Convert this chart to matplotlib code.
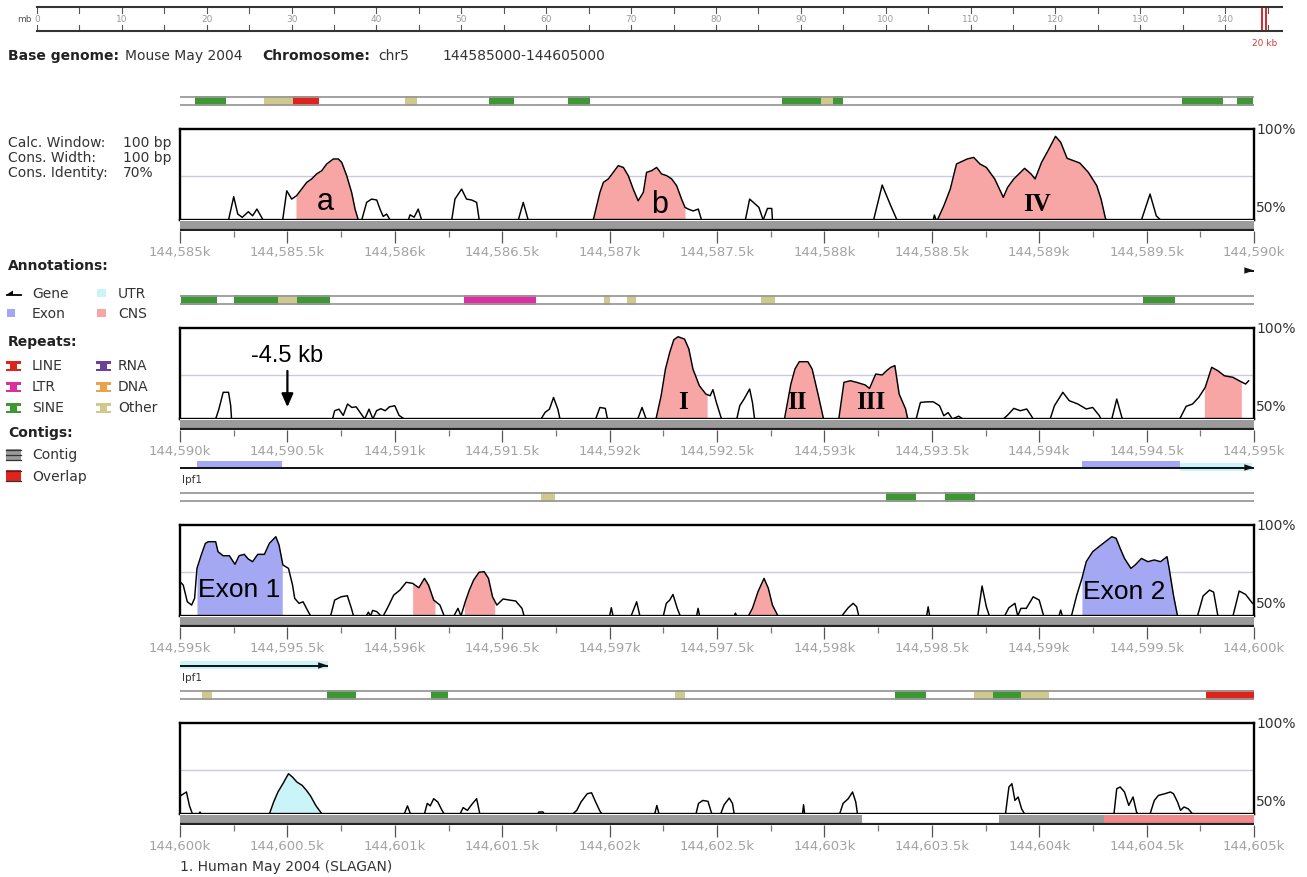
import numpy as np
import matplotlib
matplotlib.use("Agg")
import matplotlib.pyplot as plt
from matplotlib.patches import Rectangle, Polygon
from matplotlib.ticker import MultipleLocator, FuncFormatter

W, H = 1307, 878
BASE = 41.7          # identity drawn on the floor of each conservation plot
SPAN = 5000          # bp shown per row

PANEL_STARTS = [144585000, 144590000, 144595000, 144600000]

# ---- conservation curves: offset from row start (bp), percent identity ----
P1_POS = [0, 226, 250, 269, 290, 318, 338, 358, 387, 478, 497, 520, 543, 590, 613, 636, 660,
          683, 714, 737, 753, 776, 799, 815, 830, 846, 869, 892, 916, 931, 946, 962, 978,
          1063, 1071, 1090, 1109, 1125, 1265, 1280, 1311, 1334, 1358, 1381, 1393, 1575,
          1598, 1621, 1924, 1955, 1971, 1994, 2017, 2040, 2064, 2087, 2110, 2133, 2157,
          2172, 2196, 2219, 2242, 2266, 2289, 2312, 2335, 2351, 2366, 2389, 2413, 2428,
          2632, 2652, 2695, 2715, 2735, 2755, 2758, 3229, 3269, 3309, 3338, 3507, 3512,
          3520, 3526, 3556, 3586, 3615, 3665, 3695, 3724, 3754, 3793, 3833, 3853, 3882,
          3932, 3962, 3981, 4011, 4041, 4076, 4100, 4130, 4160, 4189, 4229, 4268, 4288,
          4308, 4312, 4476, 4516, 4545, 4565, 5000]
P1_PCT = [41.7, 41.7, 56.6, 45.5, 43.4, 47.0, 44.4, 48.7, 41.7, 41.7, 60.4, 55.1, 57.3, 65.8,
          68.0, 71.2, 73.3, 77.6, 80.8, 80.8, 78.6, 70.1, 59.4, 48.7, 41.7, 41.7, 53.0, 55.1,
          54.5, 48.7, 44.0, 45.5, 41.7, 41.7, 45.0, 43.5, 48.7, 41.7, 41.7, 55.1, 61.5, 55.1,
          54.5, 53.0, 41.7, 41.7, 53.0, 41.7, 41.7, 59.4, 65.8, 68.0, 72.2, 76.5, 75.4, 70.1,
          61.5, 54.0, 59.4, 72.2, 73.3, 75.4, 71.2, 70.1, 68.0, 63.7, 55.1, 49.8, 48.7, 47.5,
          48.7, 41.7, 41.7, 55.1, 49.8, 41.7, 49.1, 49.1, 41.7, 41.7, 64.1, 50.8, 41.7, 41.7,
          44.9, 41.7, 41.7, 50.8, 61.5, 77.6, 80.8, 81.8, 77.6, 75.4, 68.0, 56.2, 62.6, 68.0,
          74.8, 71.2, 68.0, 78.6, 86.1, 95.3, 91.5, 81.2, 79.7, 78.2, 72.2, 63.7, 55.1, 43.0,
          41.7, 41.7, 58.3, 44.4, 41.7, 41.7]

P2_POS = [0, 166, 181, 201, 226, 236, 240, 710, 720, 740, 760, 780, 800, 820, 838, 860, 880,
          898, 915, 935, 955, 975, 1000, 1020, 1044, 1681, 1700, 1720, 1739, 1759, 1769,
          1935, 1955, 1980, 1990, 2131, 2151, 2170, 2216, 2240, 2260, 2280, 2299, 2319,
          2349, 2369, 2388, 2418, 2448, 2468, 2481, 2497, 2521, 2592, 2606, 2626, 2652,
          2665, 2675, 2814, 2844, 2863, 2883, 2923, 2943, 2972, 2996, 3067, 3091, 3121,
          3150, 3190, 3210, 3239, 3269, 3289, 3309, 3328, 3348, 3378, 3388, 3427, 3447,
          3477, 3507, 3536, 3556, 3576, 3596, 3625, 3645, 3833, 3853, 3882, 3912, 3942,
          3962, 3972, 4051, 4071, 4110, 4140, 4180, 4219, 4249, 4279, 4288, 4338, 4361,
          4387, 4654, 4684, 4714, 4743, 4773, 4803, 4832, 4862, 4902, 4931, 4961, 4975]
P2_PCT = [41.7, 41.7, 48.0, 58.8, 58.8, 50.2, 41.7, 41.7, 47.0, 48.0, 44.0, 51.3, 49.1, 49.5,
          46.0, 41.7, 48.0, 41.7, 47.0, 48.3, 47.0, 49.5, 50.2, 44.0, 41.7, 41.7, 46.0, 48.0,
          55.5, 48.0, 41.7, 41.7, 49.1, 48.5, 41.7, 41.7, 49.1, 41.7, 41.7, 56.6, 73.7, 84.4,
          92.5, 94.4, 92.9, 86.5, 73.7, 63.0, 57.7, 56.6, 60.5, 52.3, 41.7, 41.7, 50.2, 54.5,
          60.9, 52.3, 41.7, 41.7, 64.1, 73.7, 78.4, 78.4, 73.7, 56.6, 41.7, 41.7, 65.2, 66.2,
          65.2, 63.5, 61.3, 70.5, 69.9, 72.6, 74.8, 75.9, 57.7, 48.1, 41.7, 41.7, 52.3, 52.7,
          52.7, 50.2, 43.8, 45.8, 41.7, 43.5, 41.7, 41.7, 44.2, 48.5, 47.0, 48.1, 44.0, 41.7,
          41.7, 50.2, 58.8, 53.4, 51.3, 48.1, 49.1, 44.0, 41.7, 41.7, 54.5, 41.7, 41.7, 49.8,
          51.3, 55.6, 62.0, 74.8, 72.6, 69.4, 68.4, 66.2, 64.1, 66.2]

P3_POS = [0, 15, 34, 54, 68, 79, 99, 118, 132, 166, 177, 201, 230, 256, 275, 299, 318, 338,
          362, 393, 416, 446, 461, 479, 505, 524, 534, 554, 573, 593, 608, 701, 720, 750,
          779, 798, 808, 867, 877, 887, 897, 916, 936, 946, 965, 995, 1024, 1053, 1083,
          1112, 1138, 1157, 1181, 1210, 1230, 1275, 1294, 1308, 1328, 1347, 1367, 1392,
          1416, 1436, 1455, 1475, 1504, 1534, 1563, 1592, 1602, 2000, 2008, 2016, 2100,
          2126, 2141, 2250, 2264, 2280, 2295, 2315, 2329, 2405, 2412, 2419, 2580, 2586,
          2592, 2646, 2665, 2691, 2719, 2739, 2758, 2784, 3081, 3111, 3134, 3150, 3160,
          3476, 3483, 3490, 3714, 3734, 3754, 3768, 3839, 3859, 3887, 3900, 3915, 3940,
          3972, 4000, 4021, 4092, 4100, 4108, 4150, 4175, 4199, 4219, 4249, 4278, 4308,
          4338, 4358, 4377, 4397, 4427, 4447, 4476, 4506, 4536, 4565, 4595, 4605, 4625,
          4644, 4737, 4763, 4793, 4812, 4832, 4902, 4931, 4961, 4991, 5000]
P3_PCT = [63.7, 61.5, 50.8, 48.7, 53.0, 72.2, 80.8, 88.2, 89.3, 89.3, 82.9, 80.3, 80.3, 74.8,
          80.3, 81.2, 78.2, 76.5, 81.2, 81.2, 88.2, 92.5, 87.2, 74.4, 72.2, 61.5, 53.0, 49.8,
          50.8, 45.5, 41.7, 41.7, 51.9, 54.0, 54.7, 46.6, 41.7, 41.7, 44.2, 41.7, 45.3, 44.5,
          41.7, 41.7, 46.6, 55.1, 58.3, 63.3, 62.6, 59.8, 65.8, 61.5, 51.9, 48.7, 41.7, 41.7,
          46.6, 41.7, 50.8, 58.3, 64.7, 69.7, 70.1, 65.8, 54.0, 48.7, 52.6, 51.9, 51.3, 46.6,
          41.7, 41.7, 47.0, 41.7, 41.7, 50.8, 41.7, 41.7, 49.8, 51.9, 55.5, 46.6, 41.7, 41.7,
          46.6, 41.7, 41.7, 43.5, 41.7, 41.7, 46.6, 57.3, 65.8, 59.4, 48.7, 41.7, 41.7, 47.0,
          49.8, 47.6, 41.7, 41.7, 47.6, 41.7, 41.7, 60.9, 47.6, 41.7, 41.7, 47.0, 49.8, 41.7,
          46.6, 46.6, 54.0, 51.9, 41.7, 41.7, 45.5, 41.7, 41.7, 55.1, 65.8, 76.5, 82.9, 86.1,
          89.3, 92.5, 91.5, 85.0, 78.6, 72.2, 74.4, 78.6, 76.5, 77.6, 76.5, 79.7, 72.2, 55.1,
          41.7, 41.7, 54.5, 58.3, 57.0, 41.7, 41.7, 57.7, 55.5, 50.2, 49.0]

P4_POS = [0, 5, 30, 44, 58, 88, 93, 98, 416, 436, 456, 479, 505, 524, 544, 569, 589, 608,
          632, 661, 1044, 1059, 1073, 1138, 1151, 1165, 1181, 1200, 1220, 1230, 1304, 1318,
          1338, 1357, 1381, 1396, 1665, 1671, 1690, 1696, 1828, 1847, 1867, 1896, 1916,
          1935, 1955, 1965, 2210, 2220, 2230, 2402, 2414, 2434, 2458, 2473, 2477, 2517,
          2533, 2557, 2572, 2580, 2898, 2903, 2908, 3071, 3087, 3111, 3131, 3146, 3154,
          3843, 3859, 3873, 3887, 3902, 3918, 3932, 4348, 4361, 4377, 4397, 4417, 4437,
          4453, 4460, 4516, 4536, 4555, 4585, 4611, 4625, 4644, 4658, 4674, 4694, 4714, 5000]
P4_PCT = [55.0, 53.6, 55.8, 47.0, 41.7, 41.7, 43.0, 41.7, 41.7, 49.4, 55.8, 61.1, 67.5, 65.3,
          62.2, 60.0, 56.8, 53.2, 47.2, 41.7, 41.7, 46.9, 41.7, 41.7, 48.5, 46.9, 51.5, 49.4,
          44.0, 41.7, 41.7, 45.8, 44.0, 47.6, 51.5, 41.7, 41.7, 43.0, 43.0, 41.7, 41.7, 44.0,
          49.4, 54.7, 55.3, 49.4, 43.5, 41.7, 41.7, 47.2, 41.7, 41.7, 48.5, 50.4, 49.8, 43.0,
          41.7, 41.7, 47.6, 51.9, 48.5, 41.7, 41.7, 47.6, 41.7, 41.7, 48.5, 51.5, 55.8, 49.4,
          41.7, 41.7, 59.0, 61.1, 50.4, 52.6, 45.0, 41.7, 41.7, 57.9, 59.0, 55.8, 47.2, 52.6,
          43.0, 41.7, 41.7, 50.4, 53.6, 54.7, 55.8, 54.7, 49.4, 44.0, 46.2, 45.0, 41.7, 41.7]

# ---- shaded conserved features: (start offset, end offset) ----
P1_CNS = [(540, 830), (1924, 2351), (3526, 4308)]
P2_CNS = [(2216, 2454), (2814, 2996), (3067, 3388), (4769, 4941)]
P3_CNS = [(1083, 1187), (1324, 1465), (2646, 2784)]
P3_EXON = [(79, 476), (4199, 4650)]
P4_UTR = [(420, 650)]

# ---- repeat elements: (start offset, end offset, class) ----
P1_REPEATS = [(68, 214, "SINE"), (392, 527, "Other"), (527, 645, "LINE"), (1047, 1103, "Other"),
              (1440, 1557, "SINE"), (1808, 1910, "SINE"), (2803, 2985, "SINE"),
              (2985, 3042, "Other"), (3042, 3087, "SINE"), (4664, 4855, "SINE"),
              (4920, 4997, "SINE")]
P2_REPEATS = [(5, 172, "SINE"), (250, 456, "SINE"), (456, 545, "Other"), (545, 698, "SINE"),
              (1323, 1657, "LTR"), (1975, 2004, "Other"), (2082, 2121, "Other"),
              (2705, 2770, "Other"), (4483, 4632, "SINE")]
P3_REPEATS = [(1680, 1745, "Other"), (3286, 3426, "SINE"), (3561, 3701, "SINE")]
P4_REPEATS = [(102, 149, "Other"), (685, 819, "SINE"), (1168, 1248, "SINE"), (2304, 2351, "Other"),
              (3328, 3473, "SINE"), (3696, 3785, "Other"), (3785, 3915, "SINE"),
              (3915, 4045, "Other"), (4776, 5000, "LINE")]

# ---- contigs under each row ----
P1_CONTIGS = [(0, 5000, "Contig")]
P2_CONTIGS = [(0, 5000, "Contig")]
P3_CONTIGS = [(0, 5000, "Contig")]
P4_CONTIGS = [(0, 3175, "Contig"), (3812, 4301, "Contig"), (4301, 5000, "Overlap")]

# ---- Ipf1 gene model (absolute bp) ----
GENE_START, GENE_END = 144594960, 144600688
IPF1_EXONS = [(144595079, 144595476), (144599199, 144599655)]
IPF1_UTRS = [(144599655, 144599990), (144600000, 144600688)]

# ---- feature labels: (row, offset, identity, text, style) ----
LABELS = [(0, 675, 53.8, "a", "sans"), (0, 2234, 51.9, "b", "sans"),
          (0, 3989, 52.3, "IV", "serif"), (1, 2341, 52.6, "I", "serif"),
          (1, 2872, 52.6, "II", "serif"), (1, 3217, 52.6, "III", "serif"),
          (2, 275, 59.0, "Exon 1", "big"), (2, 4394, 57.7, "Exon 2", "big")]

CHROM_TICKS_MB = list(range(0, 145, 10))
CHROM_LEN_MB = 146.7
REGION_MB = 144.6

REPEAT_COLORS = {"LINE": "#de231d", "LTR": "#dd2ea0", "SINE": "#3d9732", "RNA": "#6c3f9a",
                 "DNA": "#eba24a", "Other": "#cfc98c"}
CNS_COLOR, EXON_COLOR, UTR_COLOR = "#f7a5a5", "#a4a7f2", "#caf4f8"
CONTIG_COLORS = {"Contig": "#9b9b9b", "Overlap": "#f08a8a"}
TEXT = "#333333"

X0, X1 = 180, 1254
BOX_TOPS = [130, 329, 526, 724]
BOX_H = 91

fig = plt.figure(figsize=(W / 100, H / 100), dpi=100)
fig.patch.set_facecolor("white")


def px_axes(x0, y0, x1, y1):
    return fig.add_axes([x0 / W, 1 - y1 / H, (x1 - x0) / W, (y1 - y0) / H])


def kfmt(v, _):
    s = f"{v / 1000:,.1f}"
    if s.endswith(".0"):
        s = s[:-2]
    return s + "k"


def shade(ax, start, pos, pct, s, e, color):
    inside = (pos > s) & (pos < e)
    xs = np.concatenate([[s], pos[inside], [e]])
    ys = np.concatenate([[np.interp(s, pos, pct)], pct[inside], [np.interp(e, pos, pct)]])
    ax.fill_between(start + xs, BASE, ys, color=color, lw=0, zorder=2)


rows = [
    dict(pos=P1_POS, pct=P1_PCT, cns=P1_CNS, exon=[], utr=[], rep=P1_REPEATS, ctg=P1_CONTIGS),
    dict(pos=P2_POS, pct=P2_PCT, cns=P2_CNS, exon=[], utr=[], rep=P2_REPEATS, ctg=P2_CONTIGS),
    dict(pos=P3_POS, pct=P3_PCT, cns=P3_CNS, exon=P3_EXON, utr=[], rep=P3_REPEATS, ctg=P3_CONTIGS),
    dict(pos=P4_POS, pct=P4_PCT, cns=[], exon=[], utr=P4_UTR, rep=P4_REPEATS, ctg=P4_CONTIGS),
]

row_axes = []
for i, row in enumerate(rows):
    start = PANEL_STARTS[i]
    top = BOX_TOPS[i]
    pos = np.array(row["pos"], float)
    pct = np.array(row["pct"], float)

    # repeat track
    rax = px_axes(X0, top - 33, X1, top - 23)
    rax.set_xlim(start, start + SPAN)
    rax.set_ylim(1, 0)
    rax.axis("off")
    rax.axhline(0.1, color="#9a9a9a", lw=1.3)
    rax.axhline(0.9, color="#9a9a9a", lw=1.3)
    for s, e, kind in row["rep"]:
        rax.add_patch(Rectangle((start + s, 0.0), e - s, 1.0, color=REPEAT_COLORS[kind], lw=0))

    # gene track
    gax = px_axes(X0, top - 66, X1, top - 48)
    gax.set_xlim(start, start + SPAN)
    gax.set_ylim(18, 0)
    gax.axis("off")
    gy = 8.5
    for s, e in IPF1_EXONS:
        s2, e2 = max(s, start), min(e, start + SPAN)
        if e2 > s2:
            gax.add_patch(Rectangle((s2, gy - 7), e2 - s2, 7, color=EXON_COLOR, lw=0))
    for s, e in IPF1_UTRS:
        s2, e2 = max(s, start), min(e, start + SPAN)
        if e2 > s2:
            gax.add_patch(Rectangle((s2, gy - 5), e2 - s2, 8, color=UTR_COLOR, lw=0))
    gs, ge = max(GENE_START, start), min(GENE_END, start + SPAN)
    if ge > gs:
        gax.plot([gs, ge], [gy, gy], color="#111111", lw=1.4, solid_capstyle="butt")
        hl = 45
        gax.add_patch(Polygon([(ge - hl, gy - 3.2), (ge, gy), (ge - hl, gy + 3.2)],
                              closed=True, color="#111111", lw=0))
        if ge - gs > 300:
            gax.text(gs + 10, gy + 11.5, "Ipf1", fontsize=7.5, color=TEXT, va="center", ha="left")

    # conservation plot
    ax = px_axes(X0, top, X1, top + BOX_H)
    ax.set_xlim(start, start + SPAN)
    ax.set_ylim(BASE, 100)
    ax.axhline(70, color="#c9c9e3", lw=1.0, zorder=1)
    for s, e in row["cns"]:
        shade(ax, start, pos, pct, s, e, CNS_COLOR)
    for s, e in row["exon"]:
        shade(ax, start, pos, pct, s, e, EXON_COLOR)
    for s, e in row["utr"]:
        shade(ax, start, pos, pct, s, e, UTR_COLOR)
    ax.plot(start + pos, pct, color="black", lw=1.05, zorder=4)
    ax.set_xticks([])
    ax.set_yticks([])
    for sp in ax.spines.values():
        sp.set_linewidth(1.7)
        sp.set_color("black")
        sp.set_zorder(6)
    ax.text(1.002, 100, "100%", transform=ax.get_yaxis_transform(), ha="left", va="center",
            fontsize=10, color=TEXT)
    ax.text(1.002, 50, "50%", transform=ax.get_yaxis_transform(), ha="left", va="center",
            fontsize=10, color=TEXT)
    row_axes.append(ax)

    # contig strip and coordinate axis
    cax = px_axes(X0, top + BOX_H, X1, top + BOX_H + 11)
    cax.set_xlim(start, start + SPAN)
    cax.set_ylim(11, 0)
    for sp in cax.spines.values():
        sp.set_visible(False)
    for s, e, kind in row["ctg"]:
        cax.add_patch(Rectangle((start + s, 1.0), e - s, 7.5, color=CONTIG_COLORS[kind], lw=0))
    cax.axhline(10, color="#222222", lw=1.6)
    cax.set_yticks([])
    cax.xaxis.set_major_locator(MultipleLocator(500))
    cax.xaxis.set_minor_locator(MultipleLocator(250))
    cax.xaxis.set_major_formatter(FuncFormatter(kfmt))
    cax.tick_params(axis="x", which="major", length=8.5, width=0.9, color="#555555",
                    labelsize=9.5, labelcolor="#a3a3a3", pad=1.5)
    cax.tick_params(axis="x", which="minor", length=4, width=0.9, color="#777777")

# feature labels
for r, off, val, txt, style in LABELS:
    ax = row_axes[r]
    x = PANEL_STARTS[r] + off
    if style == "serif":
        ax.text(x, val, txt, fontsize=18, fontweight="bold", family="Liberation Serif",
                ha="center", va="center", zorder=8)
    elif style == "big":
        ax.text(x, val, txt, fontsize=19, family="Liberation Sans", ha="center", va="center",
                zorder=8)
    else:
        ax.text(x, val, txt, fontsize=22, family="Liberation Sans", ha="center", va="center",
                zorder=8)

# upstream marker
ax2 = row_axes[1]
mark = PANEL_STARTS[1] + 500
ax2.annotate("", xy=(mark, 49.3), xytext=(mark, 72.5),
             arrowprops=dict(arrowstyle="-|>,head_length=0.8,head_width=0.35", color="black",
                             lw=1.6, shrinkA=0, shrinkB=0), zorder=8)
ax2.text(mark, 82.5, "-4.5 kb", fontsize=17, family="Liberation Sans", ha="center",
         va="center", zorder=8)

# chromosome ruler
rul = px_axes(37, 8, 1282, 32)
rul.set_xlim(0, CHROM_LEN_MB)
rul.set_ylim(0, 1)
rul.set_xticks([])
rul.set_yticks([])
for k in ("left", "right"):
    rul.spines[k].set_visible(False)
for k in ("top", "bottom"):
    rul.spines[k].set_linewidth(1.5)
    rul.spines[k].set_color("#333333")
for t in range(0, 146, 5):
    rul.plot([t, t], [1, 0.76], color="#555555", lw=0.8)
    rul.plot([t, t], [0, 0.24], color="#555555", lw=0.8)
for t in CHROM_TICKS_MB:
    rul.text(t, 0.5, str(t), ha="center", va="center", fontsize=6.5, color="#9a9a9a")
rul.add_patch(Rectangle((REGION_MB - 0.25, 0), 0.5, 1, fill=False, ec="#d42a2a", lw=1.4,
                        clip_on=False))
rul.text(REGION_MB, -0.46, "20 kb", ha="center", va="center", fontsize=6.5, color="#d43c3c")

# overlay for page text and legend
ov = fig.add_axes([0, 0, 1, 1])
ov.set_xlim(0, W)
ov.set_ylim(H, 0)
ov.axis("off")
ov.patch.set_alpha(0)

ov.text(32, 20, "mb", ha="right", va="center", fontsize=6.5, color="#555555")
ov.text(8, 56, "Base genome:", fontsize=10, fontweight="bold", color="#222222", va="center")
ov.text(125, 56, "Mouse May 2004", fontsize=10, color=TEXT, va="center")
ov.text(262, 56, "Chromosome:", fontsize=10, fontweight="bold", color="#222222", va="center")
ov.text(378, 56, "chr5", fontsize=10, color=TEXT, va="center")
ov.text(442, 56, "144585000-144605000", fontsize=10, color=TEXT, va="center")

for y, lab, val in [(143, "Calc. Window:", "100 bp"), (158, "Cons. Width:", "100 bp"),
                    (173, "Cons. Identity:", "70%")]:
    ov.text(8, y, lab, fontsize=10, color=TEXT, va="center")
    ov.text(123, y, val, fontsize=10, color=TEXT, va="center")

for y, lab in [(266, "Annotations:"), (342, "Repeats:"), (433, "Contigs:")]:
    ov.text(8, y, lab, fontsize=10, fontweight="bold", color="#222222", va="center")

# annotation legend
ov.plot([7, 21], [296, 296], color="black", lw=1.3)
ov.add_patch(Polygon([(6, 296), (13, 291.5), (13, 296)], closed=True, color="black", lw=0))
ov.text(32, 294, "Gene", fontsize=10, color=TEXT, va="center")
ov.add_patch(Rectangle((97, 290), 9, 8, color=UTR_COLOR, lw=0))
ov.text(118, 294, "UTR", fontsize=10, color=TEXT, va="center")
ov.add_patch(Rectangle((7, 310), 8, 8, color=EXON_COLOR, lw=0))
ov.text(32, 314, "Exon", fontsize=10, color=TEXT, va="center")
ov.add_patch(Rectangle((97, 310), 9, 8, color=CNS_COLOR, lw=0))
ov.text(118, 314, "CNS", fontsize=10, color=TEXT, va="center")


def ibeam(x, y, color):
    ov.add_patch(Rectangle((x, y - 5), 15, 2.5, color=color, lw=0))
    ov.add_patch(Rectangle((x, y + 2.5), 15, 2.5, color=color, lw=0))
    ov.add_patch(Rectangle((x + 4, y - 3), 7, 6, color=color, lw=0))


for (x, y, kind) in [(6, 367, "LINE"), (96, 367, "RNA"), (6, 388, "LTR"), (96, 388, "DNA"),
                     (6, 409, "SINE"), (96, 409, "Other")]:
    ibeam(x, y, REPEAT_COLORS[kind])
    ov.text(x + 26 if x < 50 else x + 22, y - 1, kind, fontsize=10, color=TEXT, va="center")

ov.add_patch(Rectangle((6, 450), 15, 11, color=CONTIG_COLORS["Contig"], lw=0))
for yy in (450.5, 455.5, 460.5):
    ov.plot([6, 21], [yy, yy], color="#333333", lw=0.9)
ov.text(32, 455, "Contig", fontsize=10, color=TEXT, va="center")
ov.add_patch(Rectangle((6, 471), 15, 11, color="#e0231d", lw=0))
for yy in (471.5, 481.5):
    ov.plot([6, 21], [yy, yy], color="#333333", lw=0.9)
ov.text(32, 477, "Overlap", fontsize=10, color=TEXT, va="center")

ov.text(180, 867, "1. Human May 2004 (SLAGAN)", fontsize=10, color=TEXT, va="center")

fig.savefig("out.png", dpi=100, facecolor="white")
